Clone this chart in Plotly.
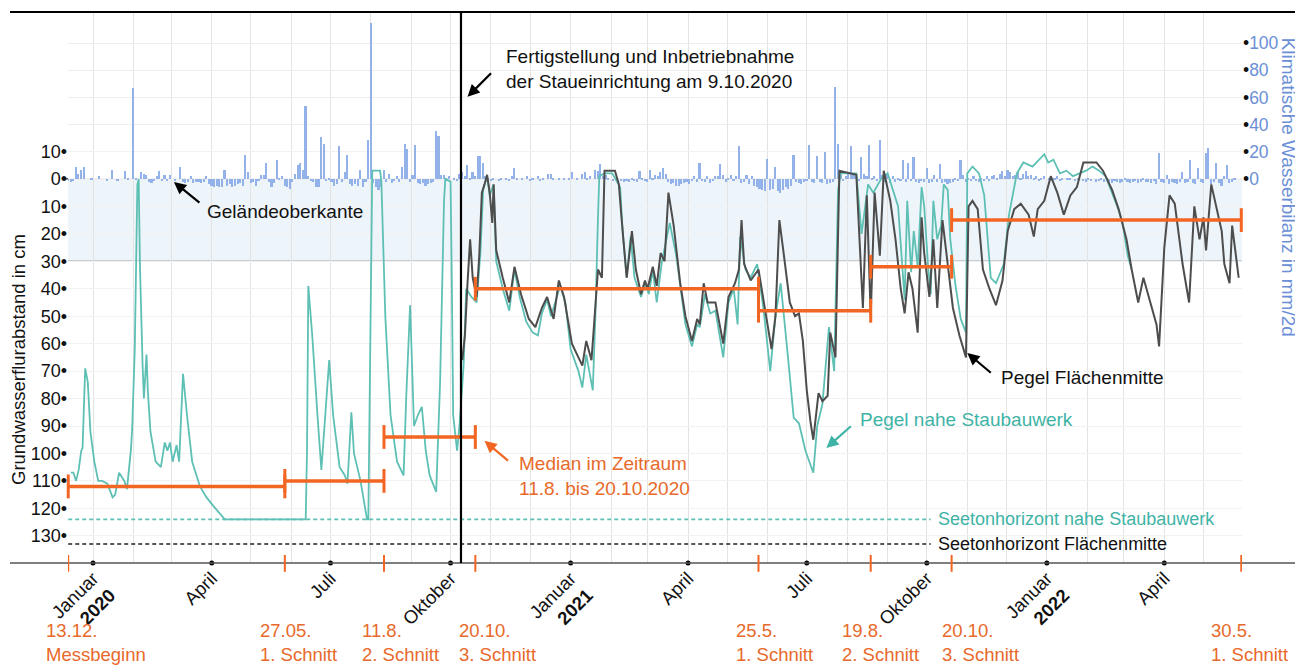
import pandas as pd
import plotly.graph_objects as go

# ---------------- data ----------------
# climatic water balance (mm per 2 days), bars every 2 days starting 13.12.2019
wb_start = "2019-12-13"
wb_values = [
    -1, -2, -1, 9, 4, 7, 9, 0, 0, 1,
    0, 0, 2, 0, 0, -1, 0, 7, 0, -1, 0, 0, 6, 1, 0,
    67, 1, 0, 5, 4, 3, -2, -3, -1, 2, 6, -1, 3, -1,
    3, 0, -1, 0, 9, -2, -3, -2, 2, -3, -2, -2, -3, -2, 2,
    -4, -5, -6, -5, -6, -6, 7, -5, -4, -6, -5, -4, -3, -5, 18,
    5, -3, -2, -5, -1, 3, 3, 12, -2, -6, -3, 14, 1, 2, -5,
    -6, -7, -2, 4, 10, 12, 7, 54, 2, -1, -2, -6, -6, 31, 26,
    -1, 1, -2, -5, -4, 24, -2, 5, 18, -4, -5, -4, -5, 7, -6,
    -2, 29, 115, -3, -6, -8, -6, 7, -2, 4, -3, -1, 2, -2, 9,
    26, 22, -2, 3, 25, -3, -4, -3, -5, -4, -3, -2, 35, 32, 3,
    3, 1, 2, 0, 1, -1, 4, 5, 2, 10, 1, 5, 2, 17, 17,
    12, 2, 1, -1, 1, 0, -1, 1, 0, 1, -1, 2, 8, 1, 0,
    1, 0, 2, -1, 1, 0, 2, -1, 1, 0, 4, 4, 1, 0, 1,
    0, 1, 0, 1, 5, 0, 1, 0, 4, 5, 1, 2, 0, 7, 6,
    11, 2, 3, 1, 0, -1, 1, 0, -1, -2, -1, -2, 1, -1, -2,
    6, 1, -1, -2, 7, 1, 3, 2, 5, 8, 4, -2, -4, -3, -5,
    -5, -4, -3, -2, -4, -1, 2, -2, 12, -1, -2, 2, -3, -1, 2,
    2, 11, 3, -2, 1, 3, -1, 2, 24, -3, -2, 3, -4, 2, -5,
    -6, -7, -8, -9, 15, -8, -7, 9, -9, -10, -8, -6, -7, -5, 18,
    -2, -3, -4, -2, -1, 25, -2, -3, 17, -2, -3, 20, -4, -3, -2,
    68, 26, 3, -1, 2, 4, 24, 3, 2, -1, 16, 4, 2, 25, 1,
    2, -1, 29, 3, -2, 4, -3, 2, -2, 1, -1, 14, -2, 12, -1,
    16, -2, -3, -1, -2, 8, -3, -2, 3, -2, 11, -3, -2, -4, -3,
    -2, 1, -1, 14, 3, -2, 1, -1, 2, -1, -2, 1, -1, 2, -1,
    2, 3, 1, 4, 6, 2, 7, 5, 2, 3, 5, 1, 4, 6, 2,
    3, 1, 2, -1, 1, 2, 0, 1, -1, 1, 2, -1, 1, 0, 1,
    1, 0, -1, 1, 0, -1, -2, 1, -1, 0, -2, -1, 1, -2, -1,
    -2, -3, -1, -2, -3, -2, 1, -2, -3, -2, -1, -3, -2, 1, -2,
    -2, -3, -1, -4, 19, -2, -3, 3, -4, -2, -3, -4, -2, 5, -3,
    -2, 14, -3, -4, 8, -2, -3, 19, 23, -4, -2, 12, -3, -5, 2,
    10, -3, -2, 1,
]
wb_dates = pd.date_range(wb_start, periods=len(wb_values), freq="2D")

# groundwater level, well near the weir (cm below surface, negative = above)
teal_dates = [
    "2019-12-15", "2019-12-17", "2019-12-19", "2019-12-21", "2019-12-23", "2019-12-24", "2019-12-26",
    "2019-12-28", "2019-12-30", "2020-01-02", "2020-01-05", "2020-01-08", "2020-01-12", "2020-01-16",
    "2020-01-18", "2020-01-21", "2020-01-25", "2020-01-27", "2020-01-30", "2020-01-31", "2020-02-02",
    "2020-02-04", "2020-02-05", "2020-02-06", "2020-02-08", "2020-02-09", "2020-02-11", "2020-02-12",
    "2020-02-14", "2020-02-18", "2020-02-22", "2020-02-25", "2020-02-27", "2020-02-29", "2020-03-02",
    "2020-03-05", "2020-03-07", "2020-03-10", "2020-03-13", "2020-03-17", "2020-03-23", "2020-03-28",
    "2020-04-02", "2020-04-09", "2020-04-11", "2020-06-12", "2020-06-13", "2020-06-14", "2020-06-17",
    "2020-06-21", "2020-06-24", "2020-06-27", "2020-06-30", "2020-07-03", "2020-07-08", "2020-07-12",
    "2020-07-14", "2020-07-17", "2020-07-19", "2020-07-24", "2020-07-29", "2020-07-30", "2020-08-02",
    "2020-08-08", "2020-08-09", "2020-08-12", "2020-08-16", "2020-08-21", "2020-08-23", "2020-08-26",
    "2020-08-28", "2020-08-31", "2020-09-03", "2020-09-06", "2020-09-09", "2020-09-12", "2020-09-15",
    "2020-09-20", "2020-09-23", "2020-09-26", "2020-09-27", "2020-10-01", "2020-10-02", "2020-10-03",
    "2020-10-06", "2020-10-08", "2020-10-11", "2020-10-13", "2020-10-17", "2020-10-21", "2020-10-24",
    "2020-10-26", "2020-10-29", "2020-10-31", "2020-11-03", "2020-11-05", "2020-11-10", "2020-11-15",
    "2020-11-19", "2020-11-23", "2020-11-28", "2020-12-03", "2020-12-07", "2020-12-10", "2020-12-14",
    "2020-12-17", "2020-12-24", "2020-12-28", "2021-01-01", "2021-01-07", "2021-01-10", "2021-01-13",
    "2021-01-18", "2021-01-20", "2021-01-22", "2021-01-23", "2021-01-27", "2021-02-02", "2021-02-08",
    "2021-02-10", "2021-02-13", "2021-02-16", "2021-02-19", "2021-02-24", "2021-02-27", "2021-03-02",
    "2021-03-05", "2021-03-08", "2021-03-12", "2021-03-18", "2021-03-23", "2021-03-30", "2021-04-04",
    "2021-04-08", "2021-04-10", "2021-04-14", "2021-04-18", "2021-04-22", "2021-04-28", "2021-05-02",
    "2021-05-06", "2021-05-09", "2021-05-11", "2021-05-15", "2021-05-19", "2021-05-24", "2021-05-29",
    "2021-06-03", "2021-06-07", "2021-06-11", "2021-06-16", "2021-06-21", "2021-06-25", "2021-06-30",
    "2021-07-06", "2021-07-09", "2021-07-13", "2021-07-18", "2021-07-22", "2021-07-25", "2021-07-27",
    "2021-08-08", "2021-08-12", "2021-08-17", "2021-08-21", "2021-08-27", "2021-09-01", "2021-09-06",
    "2021-09-09", "2021-09-14", "2021-09-16", "2021-09-19", "2021-09-21", "2021-09-24", "2021-09-27",
    "2021-09-29", "2021-10-02", "2021-10-04", "2021-10-06", "2021-10-09", "2021-10-12", "2021-10-14",
    "2021-10-17", "2021-10-19", "2021-10-23", "2021-10-27", "2021-10-31", "2021-11-01", "2021-11-05",
    "2021-11-10", "2021-11-14", "2021-11-19", "2021-11-23", "2021-11-29", "2021-12-03", "2021-12-09",
    "2021-12-14", "2021-12-21", "2021-12-26", "2021-12-30", "2022-01-02", "2022-01-06", "2022-01-11",
    "2022-01-16", "2022-01-21", "2022-01-26", "2022-01-31", "2022-02-05", "2022-02-10", "2022-02-15",
    "2022-02-20", "2022-02-24", "2022-02-28", "2022-03-04", "2022-03-07",
]
teal_cm = [
    107, 107, 110, 106, 99, 98, 69,
    74, 92, 103, 110, 110, 111, 116,
    115, 107, 110, 113, 99, 91, 62,
    2, 0, 32, 68, 80, 64, 77,
    92, 103, 105, 96, 99, 96, 103,
    97, 103, 71, 86, 103, 112, 116,
    119, 123, 124, 124, 99, 39, 57,
    86, 106, 86, 66, 86, 105, 108,
    111, 85, 100, 110, 124, 124, -3,
    -3, 1, 50, 86, 103, 105, 108,
    80, 46, 90, 86, 83, 99, 108,
    114, 74, 8, 0, 1, 38, 86,
    99, 89, 68, 40, 43, 45, 26,
    4, -1, 6, 2, 30, 40, 48,
    33, 43, 52, 56, 57, 49, 44,
    50, 39, 45, 62, 70, 76, 64,
    77, 50, 14, -1, -2, -2, 3,
    20, 36, 21, 36, 43, 38, 42,
    33, 45, 30, 16, 28, 53, 61,
    53, 54, 42, 49, 48, 65, 45,
    40, 53, 21, 33, 36, 31, 48,
    70, 50, 38, 62, 87, 89, 99,
    107, 90, 82, 54, 70, 4, -2,
    -2, 20, 2, 5, 0, -2, 5,
    10, 44, 8, 34, 19, 32, 3,
    10, 32, 42, 8, 22, 17, 2,
    4, 22, 39, 51, 56, -2, -4.5,
    -2, 6, 36, 38, 31, 13, -2,
    -6, -4.5, -7, -9, -6, -7, -2,
    -3, -1, -2, -3, -4.5, -3, -1,
    5, 10, 16, 28, 33,
]

# groundwater level, well in the centre of the area
black_dates = [
    "2020-10-10", "2020-10-12", "2020-10-14", "2020-10-16", "2020-10-18", "2020-10-21", "2020-10-23",
    "2020-10-25", "2020-10-27", "2020-10-29", "2020-10-31", "2020-11-02", "2020-11-03", "2020-11-05",
    "2020-11-10", "2020-11-15", "2020-11-19", "2020-11-24", "2020-11-30", "2020-12-05", "2020-12-10",
    "2020-12-14", "2020-12-19", "2020-12-23", "2020-12-27", "2021-01-02", "2021-01-07", "2021-01-10",
    "2021-01-13", "2021-01-17", "2021-01-19", "2021-01-22", "2021-01-25", "2021-01-27", "2021-02-04",
    "2021-02-07", "2021-02-09", "2021-02-13", "2021-02-17", "2021-02-20", "2021-02-24", "2021-02-27",
    "2021-03-01", "2021-03-05", "2021-03-08", "2021-03-11", "2021-03-14", "2021-03-17", "2021-03-21",
    "2021-03-26", "2021-03-30", "2021-04-04", "2021-04-08", "2021-04-10", "2021-04-13", "2021-04-16",
    "2021-04-22", "2021-04-28", "2021-05-02", "2021-05-07", "2021-05-10", "2021-05-12", "2021-05-14",
    "2021-05-19", "2021-05-25", "2021-05-30", "2021-06-04", "2021-06-07", "2021-06-10", "2021-06-13",
    "2021-06-18", "2021-06-22", "2021-06-25", "2021-06-28", "2021-07-01", "2021-07-04", "2021-07-06",
    "2021-07-10", "2021-07-13", "2021-07-17", "2021-07-19", "2021-07-23", "2021-07-26", "2021-08-08",
    "2021-08-10", "2021-08-13", "2021-08-16", "2021-08-19", "2021-08-22", "2021-08-26", "2021-08-29",
    "2021-09-03", "2021-09-07", "2021-09-11", "2021-09-14", "2021-09-17", "2021-09-20", "2021-09-24",
    "2021-09-27", "2021-09-29", "2021-10-03", "2021-10-06", "2021-10-09", "2021-10-13", "2021-10-17",
    "2021-10-21", "2021-10-26", "2021-10-31", "2021-11-02", "2021-11-05", "2021-11-09", "2021-11-13",
    "2021-11-18", "2021-11-23", "2021-11-28", "2021-12-02", "2021-12-07", "2021-12-12", "2021-12-18",
    "2021-12-22", "2021-12-25", "2021-12-30", "2022-01-04", "2022-01-09", "2022-01-14", "2022-01-19",
    "2022-01-24", "2022-01-29", "2022-02-03", "2022-02-08", "2022-02-13", "2022-02-20", "2022-02-25",
    "2022-03-03", "2022-03-07", "2022-03-12", "2022-03-16", "2022-03-21", "2022-03-26", "2022-03-28",
    "2022-04-01", "2022-04-05", "2022-04-09", "2022-04-15", "2022-04-20", "2022-04-24", "2022-04-28",
    "2022-05-01", "2022-05-03", "2022-05-07", "2022-05-11", "2022-05-15", "2022-05-17", "2022-05-21",
    "2022-05-23", "2022-05-26", "2022-05-28",
]
black_cm = [
    66, 57, 38, 22, 36, 43, 28,
    5, 2, -1.5, 5, 16, 2, 26,
    36, 45, 32, 42, 51, 54, 47,
    43, 51, 37, 43, 60, 65, 68,
    59, 66, 53, 33, 36, -3, -3,
    2, 14, 36, 19, 33, 42, 37,
    40, 32, 39, 27, 30, 5, 17,
    38, 50, 59, 51, 53, 38, 45,
    45, 60, 43, 38, 33, 15, 31,
    37, 33, 48, 62, 50, 15, 26,
    45, 50, 49, 59, 77, 89, 95,
    78, 81, 79, 56, 65, -3, -1.5,
    20, 47, 6, 50, 5, 28, -3,
    8, 22, 40, 49, 34, 40, 56,
    14, 27, 43, 22, 47, 15, 31,
    47, 57, 65, 10, 8, 11, 33,
    40, 46, 37, 19, 11, 9, 13,
    21, 11, 8, -1, 5, 13, 6,
    3, -6, -6, -6, -3, 4, 11,
    22, 33, 45, 36, 45, 53, 61,
    25, 6, 9, 31, 45, 10, 22,
    14, 26, 2, 11, 19, 31, 38,
    17, 28, 36,
]

# medians between cutting dates
median_start = ["2019-12-13", "2020-05-27", "2020-08-11", "2020-10-20", "2021-05-25", "2021-08-19", "2021-10-20"]
median_end = ["2020-05-27", "2020-08-11", "2020-10-20", "2021-05-25", "2021-08-19", "2021-10-20", "2022-05-30"]
median_cm = [112, 110, 94, 40, 48, 32, 15]

cut_dates = ["2019-12-13", "2020-05-27", "2020-08-11", "2020-10-20", "2021-05-25", "2021-08-19", "2021-10-20", "2022-05-30"]
cut_day = ["13.12.", "27.05.", "11.8.", "20.10.", "25.5.", "19.8.", "20.10.", "30.5."]
cut_event = ["Messbeginn", "1. Schnitt", "2. Schnitt", "3. Schnitt", "1. Schnitt", "2. Schnitt", "3. Schnitt", "1. Schnitt"]

horizon_names = ["Seetonhorizont nahe Staubauwerk", "Seetonhorizont Flächenmitte"]
horizon_cm = [124, 133]
horizon_span = ["2019-12-13", "2021-10-04"]

tick_dates = ["2020-01-01", "2020-04-01", "2020-07-01", "2020-10-01", "2021-01-01", "2021-04-01",
              "2021-07-01", "2021-10-01", "2022-01-01", "2022-04-01"]
tick_labels = ["Januar<br><b>2020</b>", "April", "Juli", "Oktober", "Januar<br><b>2021</b>", "April",
               "Juli", "Oktober", "Januar<br><b>2022</b>", "April"]

depth_ticks = [-10, 0, 10, 20, 30, 40, 50, 60, 70, 80, 90, 100, 110, 120, 130]
wb_ticks = [0, 20, 40, 60, 80, 100]
dam_date = "2020-10-09"
shade_band = [0, 30]

# ---------------- styling ----------------
FONT = "Arial, 'Liberation Sans', Helvetica, sans-serif"
TEAL = "#5ec0b5"
TEAL_TXT = "#3fb3a6"
DARK = "#4d4d4d"
ORANGE = "#f26522"
ORANGE_TXT = "#e8692a"
BLUE = "#6b8fd6"
BAR = "#94b2ea"
CM_RANGE = [139.9, -60.8]
MM_RANGE = [-282.3, 122.8]
X_RANGE = ["2019-12-12 20:00", "2022-05-30 13:00"]
X_DOMAIN = [0.04486, 0.95282]
PAGE_OFFSET = 8  # default body margin of the html page

fig = go.Figure()

# bars (primary y = mm axis, drawn underneath)
fig.add_trace(go.Bar(x=wb_dates, y=wb_values, marker=dict(color=BAR, line=dict(width=0)),
                     width=1.25 * 86400000, yaxis="y", hoverinfo="skip"))

# seeton horizons
for name, depth, col in zip(horizon_names, horizon_cm, [TEAL, "#222222"]):
    fig.add_trace(go.Scatter(x=horizon_span, y=[depth, depth], mode="lines", yaxis="y2",
                             line=dict(color=col, width=1.6, dash="4px,3px"), hoverinfo="skip"))

# groundwater lines
fig.add_trace(go.Scatter(x=teal_dates, y=teal_cm, mode="lines", yaxis="y2",
                         line=dict(color=TEAL, width=1.8)))
fig.add_trace(go.Scatter(x=black_dates, y=black_cm, mode="lines", yaxis="y2",
                         line=dict(color=DARK, width=2)))

# median bars
for s, e, v in zip(median_start, median_end, median_cm):
    fig.add_trace(go.Scatter(x=[s, e], y=[v, v], mode="lines+markers", yaxis="y2",
                             line=dict(color=ORANGE, width=3.5),
                             marker=dict(symbol="line-ns", size=17, line=dict(color=ORANGE, width=3)),
                             cliponaxis=False))

# x tick dots
fig.add_trace(go.Scatter(x=tick_dates, y=[CM_RANGE[0]] * len(tick_dates), mode="markers", yaxis="y2",
                         marker=dict(color="black", size=5), cliponaxis=False, hoverinfo="skip"))

shapes = [
    dict(type="rect", xref="x domain", x0=0, x1=1, yref="y2", y0=shade_band[0], y1=shade_band[1],
         fillcolor="#eef5fa", line=dict(width=0), layer="below"),
    dict(type="line", xref="paper", x0=0.041, x1=X_DOMAIN[1], yref="y2", y0=0, y1=0,
         line=dict(color="#333333", width=1.4), layer="below"),
    dict(type="line", xref="paper", x0=X_DOMAIN[0], x1=X_DOMAIN[1], yref="y2", y0=shade_band[1],
         y1=shade_band[1], line=dict(color="#555555", width=1.1), layer="below"),
    dict(type="line", xref="paper", x0=0, x1=1, yref="paper", y0=1, y1=1,
         line=dict(color="black", width=2), layer="above"),
    dict(type="line", xref="paper", x0=0, x1=1, yref="paper", y0=0, y1=0,
         line=dict(color="#555555", width=1.5), layer="above"),
    dict(type="line", xref="x", x0=dam_date, x1=dam_date, yref="paper", y0=0, y1=1,
         line=dict(color="black", width=2.2), layer="above"),
]
for d in cut_dates:
    shapes.append(dict(type="line", xref="x", x0=d, x1=d, yref="paper", y0=-0.016, y1=0.0145,
                       line=dict(color=ORANGE, width=2), layer="above"))

annotations = []
label_shift = [-24, -27, -24, -18, -24, -31, -12, -32]
for d, t1, t2, sh in zip(cut_dates, cut_day, cut_event, label_shift):
    annotations.append(dict(x=d, xref="x", y=-0.1, yref="paper", text=f"{t1}<br>{t2}",
                            showarrow=False, xanchor="left", yanchor="top", xshift=sh, align="left",
                            font=dict(size=18.5, color=ORANGE_TXT, family=FONT)))

def txt(x, y, text, color="#111111", size=19):
    annotations.append(dict(x=x, xref="x", y=y, yref="y2", text=text, showarrow=False,
                            xanchor="left", yanchor="middle", align="left",
                            font=dict(size=size, color=color, family=FONT)))

def arrow(x, y, ax, ay, color="black"):
    annotations.append(dict(x=x, xref="x", y=y, yref="y2", text="", showarrow=True,
                            ax=ax, ay=ay, arrowhead=2, arrowsize=1.1, arrowwidth=2.2,
                            arrowcolor=color))

txt("2020-03-27", 12, "Geländeoberkante")
arrow("2020-03-03", 1.1, 27, 22)
txt("2020-11-11", -40.2, "Fertigstellung und Inbetriebnahme<br>der Staueinrichtung am 9.10.2020")
arrow("2020-10-14", -29.9, 25, -25)
txt("2020-11-21", 108.3, "Median im Zeitraum<br>11.8. bis 20.10.2020", color=ORANGE_TXT)
arrow("2020-10-27", 95.4, 25, 21, color=ORANGE)
txt("2021-08-09", 87.8, "Pegel nahe Staubauwerk", color=TEAL_TXT)
arrow("2021-07-16", 98, 26, -23, color=TEAL_TXT)
txt("2021-11-25", 72.5, "Pegel Flächenmitte")
arrow("2021-11-01", 63.4, 25, 21)
txt("2021-10-08", horizon_cm[0], horizon_names[0], color=TEAL_TXT, size=18)
txt("2021-10-08", horizon_cm[1], horizon_names[1], color="#111111", size=18)

annotations.append(dict(x=(18 - 10) / 1293, xref="paper", y=0.3684, yref="paper",
                        text="Grundwasserflurabstand in cm", textangle=-90, showarrow=False,
                        xanchor="center", yanchor="middle",
                        font=dict(size=18.5, color="#111111", family=FONT)))
annotations.append(dict(x=(1288 - 10) / 1293, xref="paper", y=0.683, yref="paper",
                        text="Klimatische Wasserbilanz in mm/2d", textangle=90, showarrow=False,
                        xanchor="center", yanchor="middle",
                        font=dict(size=19, color=BLUE, family=FONT)))

fig.update_layout(
    width=1303 - PAGE_OFFSET, height=669 - PAGE_OFFSET,
    margin=dict(l=10 - PAGE_OFFSET, r=0, t=12 - PAGE_OFFSET, b=106),
    paper_bgcolor="white", plot_bgcolor="rgba(0,0,0,0)",
    showlegend=False, bargap=0,
    font=dict(family=FONT, color="#111111"),
    xaxis=dict(type="date", range=X_RANGE, domain=X_DOMAIN, anchor="y",
               tickmode="array", tickvals=tick_dates, ticktext=tick_labels, tickangle=-45,
               tickfont=dict(size=18.5, color="#111111", family=FONT), ticks="",
               showgrid=True, gridcolor="#e3e3e3", gridwidth=1,
               minor=dict(tickmode="linear", tick0="2020-01-01", dtick="M1", showgrid=True,
                          gridcolor="#e3e3e3", gridwidth=1, ticks=""),
               showline=False, zeroline=False, automargin=False),
    yaxis=dict(range=MM_RANGE, side="right", anchor="x", tickmode="array", tickvals=wb_ticks,
               ticktext=[f"<span style='color:#111111'>•</span>{v}" for v in wb_ticks],
               tickfont=dict(size=17.5, color=BLUE, family=FONT), ticks="",
               showgrid=True, gridcolor="#eeeeee", zeroline=False, showline=False,
               automargin=False),
    yaxis2=dict(range=CM_RANGE, side="left", anchor="x", overlaying="y", tickmode="array",
                tickvals=depth_ticks, ticktext=[f"{abs(v)}•" for v in depth_ticks],
                tickfont=dict(size=18, color="#111111", family=FONT), ticks="",
                showgrid=True, gridcolor="#f2f2f2", zeroline=False, showline=False,
                automargin=False),
    shapes=shapes,
    annotations=annotations,
)

fig.write_html("out.html")
